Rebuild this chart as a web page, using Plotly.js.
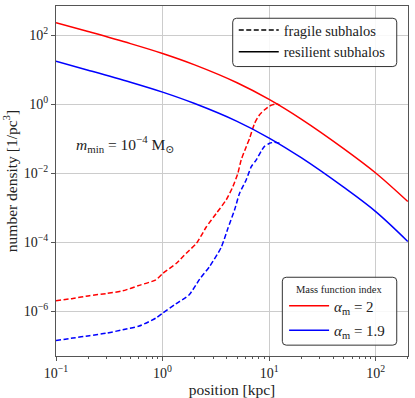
<!DOCTYPE html>
<html>
<head>
<meta charset="utf-8">
<script src="https://cdn.plot.ly/plotly-3.0.1.min.js"></script>
<style>html,body{margin:0;padding:0;background:#fff;}</style>
</head>
<body>
<div id="chart" style="width:415px;height:398px;"></div>
<script>
// position [kpc] for resilient curves
const xResilient = [0.1, 0.2, 0.5, 1, 2, 5, 10, 20, 50, 100, 200];
const yResilientA2 = [231.7, 128.5, 57.4, 29.7, 13.9, 4.22, 1.387, 0.372, 0.0518, 0.01016, 1.51e-3];
const yResilientA19 = [17.6, 9.75, 4.36, 2.25, 1.05, 0.32, 0.105, 0.0282, 3.93e-3, 7.7e-4, 1.05e-4];

const xFragileA2 = [0.1, 0.144, 0.206, 0.295, 0.423, 0.604, 0.865, 1.01, 1.35, 1.67, 2.08, 2.58, 3.2, 3.96, 4.57, 5.09, 5.47, 6.1, 6.55, 7.3, 8.1, 9.0, 10.1, 11.6, 12.5];
const yFragileA2 = [2.0e-6, 2.34e-6, 2.82e-6, 3.24e-6, 3.89e-6, 5.6e-6, 8.1e-6, 1.26e-5, 2.45e-5, 4.8e-5, 9.3e-5, 2.8e-4, 6.9e-4, 1.7e-3, 4.1e-3, 0.01, 0.0245, 0.059, 0.102, 0.28, 0.49, 0.68, 0.89, 1.02, 0.955];

const xFragileA19 = [0.1, 0.144, 0.206, 0.295, 0.423, 0.604, 0.865, 1.0, 1.33, 1.77, 2.23, 2.77, 3.55, 4.1, 4.74, 5.27, 6.1, 6.8, 7.57, 8.4, 9.0, 10.1, 11.2, 12.5];
const yFragileA19 = [1.41e-7, 1.66e-7, 1.95e-7, 2.29e-7, 2.88e-7, 3.7e-7, 6.3e-7, 8.7e-7, 1.62e-6, 2.95e-6, 8.5e-6, 2.0e-5, 7.1e-5, 2.5e-4, 8.7e-4, 2.6e-3, 6.5e-3, 0.0155, 0.0245, 0.043, 0.059, 0.074, 0.079, 0.074];

const xTickVals = [0.1, 1, 10, 100];
const xTickText = ['10<sup>−1</sup>', '10<sup>0</sup>', '10<sup>1</sup>', '10<sup>2</sup>'];
const yTickVals = [1e-6, 1e-4, 1e-2, 1, 100];
const yTickText = ['10<sup>−6</sup>', '10<sup>−4</sup>', '10<sup>−2</sup>', '10<sup>0</sup>', '10<sup>2</sup>'];
const xMinor = [0.2,0.3,0.4,0.5,0.6,0.7,0.8,0.9,2,3,4,5,6,7,8,9,20,30,40,50,60,70,80,90,200];

const FONT = 'Liberation Serif, DejaVu Serif, serif';
const RED = '#ff0000', BLUE = '#0000ff';
const DASH = '5px,2.5px';

const traces = [
  {x: xFragileA2, y: yFragileA2, mode: 'lines', line: {color: RED, width: 1.5, dash: DASH, shape: 'spline', smoothing: 0.6}, showlegend: false, hoverinfo: 'skip'},
  {x: xFragileA19, y: yFragileA19, mode: 'lines', line: {color: BLUE, width: 1.5, dash: DASH, shape: 'spline', smoothing: 0.6}, showlegend: false, hoverinfo: 'skip'},
  {x: xResilient, y: yResilientA2, mode: 'lines', line: {color: RED, width: 1.5, shape: 'spline', smoothing: 1}, name: '<i>α</i><sub>m</sub> = 2', legend: 'legend2', legendgroup: 'a2'},
  {x: xResilient, y: yResilientA19, mode: 'lines', line: {color: BLUE, width: 1.5, shape: 'spline', smoothing: 1}, name: '<i>α</i><sub>m</sub> = 1.9', legend: 'legend2', legendgroup: 'a19'},
  {x: [null], y: [null], mode: 'lines', line: {color: '#000', width: 1.5, dash: DASH}, name: 'fragile subhalos', legend: 'legend'},
  {x: [null], y: [null], mode: 'lines', line: {color: '#000', width: 1.5}, name: 'resilient subhalos', legend: 'legend'}
];

function roundRect(x0, y0, x1, y1, rx, ry) {
  return `M${x0+rx},${y0} L${x1-rx},${y0} Q${x1},${y0} ${x1},${y0+ry} L${x1},${y1-ry} Q${x1},${y1} ${x1-rx},${y1} L${x0+rx},${y1} Q${x0},${y1} ${x0},${y1-ry} L${x0},${y0+ry} Q${x0},${y0} ${x0+rx},${y0} Z`;
}

const layout = {
  width: 415, height: 398,
  margin: {l: 56, r: 7, t: 6, b: 42},
  paper_bgcolor: '#fff', plot_bgcolor: '#fff',
  font: {family: FONT, size: 13, color: '#222'},
  xaxis: {
    type: 'log', range: [-1, 2.303],
    tickvals: xTickVals, ticktext: xTickText,
    ticks: 'outside', ticklen: 4, tickcolor: '#555',
    showgrid: true, gridcolor: '#cccccc', gridwidth: 1,
    showline: true, linecolor: '#555', linewidth: 1, mirror: true,
    zeroline: false,
    minor: {tickvals: xMinor, ticks: 'outside', ticklen: 2, tickcolor: '#555', showgrid: false},
    tickfont: {family: FONT, size: 14, color: '#222'},
    title: {text: 'position [kpc]', font: {family: FONT, size: 15.5, color: '#222'}, standoff: 4}
  },
  yaxis: {
    type: 'log', range: [-7.3, 2.85],
    tickvals: yTickVals, ticktext: yTickText,
    ticks: 'outside', ticklen: 4, tickcolor: '#555',
    showgrid: true, gridcolor: '#cccccc', gridwidth: 1,
    showline: true, linecolor: '#555', linewidth: 1, mirror: true,
    zeroline: false,
    tickfont: {family: FONT, size: 14, color: '#222'},
    title: {text: 'number density [1/pc<sup>3</sup>]', font: {family: FONT, size: 15.5, color: '#222'}, standoff: 4}
  },
  legend: {
    x: 0.505, y: 0.977, xanchor: 'left', yanchor: 'top',
    bgcolor: 'rgba(0,0,0,0)', borderwidth: 0,
    font: {family: FONT, size: 14.5, color: '#222'},
    tracegroupgap: 0,
    itemwidth: 40
  },
  legend2: {
    x: 0.648, y: 0.19, xanchor: 'left', yanchor: 'top',
    bgcolor: 'rgba(0,0,0,0)', borderwidth: 0,
    font: {family: FONT, size: 15, color: '#222'},
    traceorder: 'grouped', tracegroupgap: 2,
    itemwidth: 40
  },
  shapes: [
    {type: 'path', xref: 'paper', yref: 'paper', layer: 'above', path: roundRect(0.502, 0.827, 0.968, 0.965, 0.011, 0.011),
     fillcolor: 'rgba(255,255,255,0.85)', line: {color: '#333', width: 1}},
    {type: 'path', xref: 'paper', yref: 'paper', layer: 'above', path: roundRect(0.643, 0.031, 0.968, 0.225, 0.011, 0.011),
     fillcolor: 'rgba(255,255,255,0.85)', line: {color: '#333', width: 1}}
  ],
  annotations: [{
    xref: 'paper', yref: 'paper', x: 0.052, y: 0.606, xanchor: 'left', yanchor: 'middle',
    showarrow: false,
    text: '<i>m</i><sub>min</sub> = 10<sup>−4</sup> M<sub>⊙</sub>',
    font: {family: FONT, size: 15.5, color: '#222'}
  }, {
    xref: 'paper', yref: 'paper', x: 0.805, y: 0.1914, xanchor: 'center', yanchor: 'middle',
    showarrow: false,
    text: 'Mass function index',
    font: {family: FONT, size: 10.5, color: '#222'}
  }]
};

Plotly.newPlot('chart', traces, layout, {staticPlot: true, displayModeBar: false});
</script>
</body>
</html>
